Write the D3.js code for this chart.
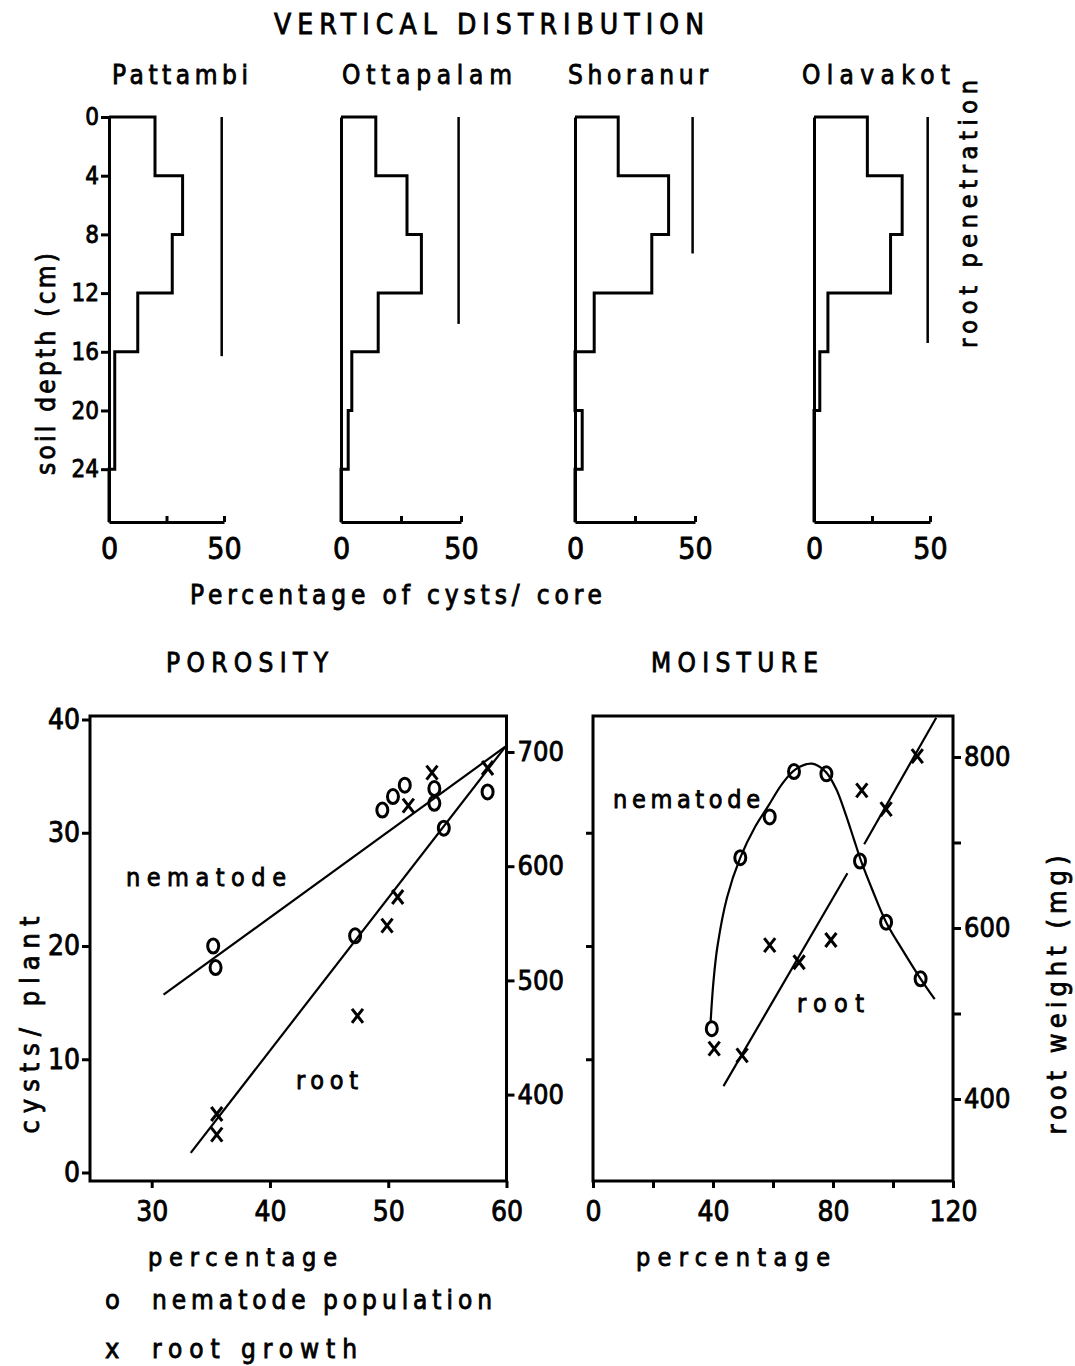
<!DOCTYPE html>
<html>
<head>
<meta charset="utf-8">
<script src="https://cdnjs.cloudflare.com/ajax/libs/d3/7.8.5/d3.min.js"></script>
<style>
  body { margin: 0; background: #fff; }
  svg text { font-family: "DejaVu Sans Condensed", "DejaVu Sans", sans-serif; fill: #000; stroke: #000; stroke-width: 0.8px; }
  .axis path, .axis line { stroke: #000; stroke-width: 3; fill: none; }
  .hist { fill: none; stroke: #000; stroke-width: 3; stroke-linejoin: miter; }
  .rootpen { stroke: #000; stroke-width: 2.5; }
  .frame { fill: none; stroke: #000; stroke-width: 3; }
  .fit { fill: none; stroke: #000; stroke-width: 2.2; }
  .mark { fill: none; stroke: #000; stroke-width: 3; }
</style>
</head>
<body>
<div id="chart"></div>
<script>
// ---- vertical distribution (percentage of cysts per 4 cm layer) ----
var sites = ["Pattambi", "Ottapalam", "Shoranur", "Olavakot"];
var depthEdges = [0, 4, 8, 12, 16, 20, 24, 28];
var pattambi  = [20, 32, 27.5, 12.5, 2.5, 2.5, 0];
var ottapalam = [14.5, 27.5, 33.5, 15.5, 4.5, 3, 0];
var shoranur  = [18, 39, 32, 8, 0, 3, 0];
var olavakot  = [23, 38, 33, 6, 2.5, 0, 0];
var rootPenetration = [16.3, 14.1, 9.3, 15.4];
var rootLineAt = 49;
var depthTicks = [0, 4, 8, 12, 16, 20, 24];
var pctTicks = [0, 25, 50];

// ---- porosity ----
var porosityTicks = [30, 40, 50, 60];
var cystTicks = [0, 10, 20, 30, 40];
var porosityRootTicks = [400, 500, 600, 700];
var porosityNemX = [35.2, 35.4, 49.5, 50.4, 51.4, 53.9, 53.9, 54.7, 47.2, 58.4];
var porosityNemY = [20.0, 18.1, 32.0, 33.2, 34.2, 33.9, 32.6, 30.4, 20.9, 33.6];
var porosityRootX = [35.5, 35.5, 47.4, 49.9, 50.8, 51.7, 53.7, 58.4];
var porosityRootY = [383, 365, 469, 548, 573, 653, 682, 686];
var porosityNemFit = [[31, 15.7], [59.9, 37.6]];
var porosityRootFit = [[33.3, 349], [59.9, 704.5]];

// ---- moisture ----
var moistureTicks = [0, 20, 40, 60, 80, 100, 120];
var moistureRootTicks = [400, 500, 600, 700, 800];
var moistNemX = [39.6, 49.1, 58.9, 67.0, 77.8, 89.0, 97.7, 109.2];
var moistNemY = [12.7, 27.8, 31.4, 35.4, 35.2, 27.5, 22.1, 17.1];
var moistRootX = [40.4, 49.7, 58.9, 68.7, 79.3, 89.6, 97.7, 108.1];
var moistRootY = [459, 451, 580, 560, 586, 761, 739, 801];
var moistNemCurve = [[39.2, 13.3], [40.2, 17], [41.5, 20], [44.7, 24.3], [49.1, 27.8], [54, 30.5],
  [58.5, 32.4], [63, 34.3], [67.5, 35.6], [73, 36.1], [77.5, 35.4], [81, 33.9], [84, 31.8],
  [87, 29.4], [89.5, 27.4], [93.2, 24.9], [97.7, 22.1], [103.5, 19.5], [109.2, 17.1], [113.9, 15.3]];
var moistRootFit = [[[43.5, 415], [84.8, 664]], [[90.4, 698], [114.4, 846]]];

function draw() {
    var svg = d3.select("#chart")
      .append("svg")
        .attr("width", 1075)
        .attr("height", 1366);

    function label(txt, x, y, size, len, anchor) {
        var t = svg.append("text")
            .attr("x", x)
            .attr("y", y)
            .style("font-size", size + "px")
            .style("text-anchor", anchor || "start")
            .text(txt);
        if (len) t.attr("textLength", len).attr("lengthAdjust", "spacing");
        return t;
    }
    function vlabel(txt, x, y, size, len) {
        svg.append("text")
            .attr("transform", "translate(" + x + "," + y + ") rotate(-90)")
            .style("font-size", size + "px")
            .style("text-anchor", "middle")
            .attr("textLength", len)
            .attr("lengthAdjust", "spacing")
            .text(txt);
    }

    // ================= top: vertical distribution =================
    var siteData = [pattambi, ottapalam, shoranur, olavakot];
    var panelX = [109, 341, 575, 814];
    var panelW = [115, 120, 120, 116];
    var titleX = [112, 342, 568, 802];
    var titleLen = [136, 170, 140, 148];
    var yDepth = d3.scaleLinear().domain([0, 27.6]).range([117, 522]);
    var maxDepth = yDepth.domain()[1];

    label("VERTICAL DISTRIBUTION", 274, 34, 28, 430);

    sites.forEach(function(name, i) {
        var x = d3.scaleLinear().domain([0, 50]).range([panelX[i], panelX[i] + panelW[i]]);

        label(name, titleX[i], 84, 26, titleLen[i]);

        var pts = [[0, 0]];
        siteData[i].forEach(function(v, j) {
            pts.push([v, Math.min(depthEdges[j], maxDepth)]);
            pts.push([v, Math.min(depthEdges[j + 1], maxDepth)]);
        });
        pts.push([0, maxDepth]);

        svg.append("path")
            .attr("class", "hist")
            .attr("d", d3.line()
                .x(function(d) { return x(d[0]); })
                .y(function(d) { return yDepth(d[1]); })(pts));

        svg.append("line")
            .attr("class", "rootpen")
            .attr("x1", x(rootLineAt)).attr("x2", x(rootLineAt))
            .attr("y1", yDepth(0)).attr("y2", yDepth(rootPenetration[i]));

        svg.append("g")
            .attr("class", "axis")
            .attr("transform", "translate(" + panelX[i] + ",0)")
            .call(d3.axisLeft(yDepth)
                .tickValues(i === 0 ? depthTicks : [])
                .tickSize(8).tickSizeOuter(0).tickPadding(2))
            .selectAll("text").style("font-size", "24px");

        svg.append("g")
            .attr("class", "axis")
            .attr("transform", "translate(0," + yDepth(maxDepth) + ")")
            .call(d3.axisBottom(x)
                .tickValues(pctTicks)
                .tickFormat(function(d) { return d === 25 ? "" : d; })
                .tickSize(-6).tickSizeOuter(0).tickPadding(16))
            .selectAll("text").style("font-size", "30px");
    });

    vlabel("soil depth (cm)", 55, 364, 26, 222);
    vlabel("root penetration", 977, 214, 25, 268);
    label("Percentage of cysts/ core", 190, 604, 26, 412);

    // ================= bottom panels =================
    var plotTop = 716, plotBottom = 1181;
    var yCyst = d3.scaleLinear().domain([0, 40]).range([1172.5, 719.5]);

    // ---- porosity ----
    var xPor = d3.scaleLinear().domain([30, 60]).range([151.7, 506.5]);
    var yRootP = d3.scaleLinear().domain([400, 700]).range([1094.6, 752]);
    var porLeft = 90, porRight = xPor(60);

    label("POROSITY", 166, 672, 26, 162);

    svg.append("rect")
        .attr("class", "frame")
        .attr("x", porLeft).attr("y", plotTop)
        .attr("width", porRight - porLeft).attr("height", plotBottom - plotTop);

    svg.append("g").attr("class", "axis")
        .attr("transform", "translate(" + porLeft + ",0)")
        .call(d3.axisLeft(yCyst).tickValues(cystTicks).tickSize(8).tickPadding(2))
        .call(function(g) { g.select(".domain").remove(); })
        .selectAll("text").style("font-size", "28px");

    svg.append("g").attr("class", "axis")
        .attr("transform", "translate(" + porRight + ",0)")
        .call(d3.axisRight(yRootP).tickValues(porosityRootTicks).tickSize(8).tickPadding(3))
        .call(function(g) { g.select(".domain").remove(); })
        .selectAll("text").style("font-size", "27px");

    svg.append("g").attr("class", "axis")
        .attr("transform", "translate(0," + plotBottom + ")")
        .call(d3.axisBottom(xPor).tickValues(porosityTicks).tickSize(7).tickPadding(13))
        .call(function(g) { g.select(".domain").remove(); })
        .selectAll("text").style("font-size", "28px");

    svg.append("path").attr("class", "fit")
        .attr("d", d3.line()
            .x(function(d) { return xPor(d[0]); })
            .y(function(d) { return yCyst(d[1]); })(porosityNemFit));
    svg.append("path").attr("class", "fit")
        .attr("d", d3.line()
            .x(function(d) { return xPor(d[0]); })
            .y(function(d) { return yRootP(d[1]); })(porosityRootFit));

    svg.selectAll("ellipse.por")
        .data(porosityNemX)
      .enter().append("ellipse")
        .attr("class", "mark por")
        .attr("cx", function(d) { return xPor(d); })
        .attr("cy", function(d, i) { return yCyst(porosityNemY[i]); })
        .attr("rx", 5.5).attr("ry", 7);

    svg.selectAll("path.porx")
        .data(porosityRootX)
      .enter().append("path")
        .attr("class", "mark porx")
        .attr("transform", function(d, i) {
            return "translate(" + xPor(d) + "," + yRootP(porosityRootY[i]) + ")";
        })
        .attr("d", "M-5.5,-7L5.5,7M5.5,-7L-5.5,7");

    label("nematode", 126, 886, 25, 160);
    label("root", 296, 1089, 25, 62);
    label("percentage", 148, 1266, 25, 189);
    vlabel("cysts/ plant", 39, 1025, 27, 217);

    // ---- moisture ----
    var xMoist = d3.scaleLinear().domain([0, 120]).range([593, 953]);
    var yRootM = d3.scaleLinear().domain([400, 800]).range([1099, 757]);

    label("MOISTURE", 651, 672, 26, 167);

    svg.append("rect")
        .attr("class", "frame")
        .attr("x", xMoist(0)).attr("y", plotTop)
        .attr("width", xMoist(120) - xMoist(0)).attr("height", plotBottom - plotTop);

    svg.append("g").attr("class", "axis")
        .attr("transform", "translate(" + xMoist(0) + ",0)")
        .call(d3.axisLeft(yCyst).tickValues([10, 20, 30]).tickSize(7).tickFormat(""))
        .call(function(g) { g.select(".domain").remove(); });

    svg.append("g").attr("class", "axis")
        .attr("transform", "translate(" + xMoist(120) + ",0)")
        .call(d3.axisRight(yRootM).tickValues(moistureRootTicks).tickSize(8).tickPadding(3)
            .tickFormat(function(d) { return d % 200 === 0 ? d : ""; }))
        .call(function(g) { g.select(".domain").remove(); })
        .selectAll("text").style("font-size", "27px");

    svg.append("g").attr("class", "axis")
        .attr("transform", "translate(0," + plotBottom + ")")
        .call(d3.axisBottom(xMoist).tickValues(moistureTicks).tickSize(7).tickPadding(13)
            .tickFormat(function(d) { return d % 40 === 0 ? d : ""; }))
        .call(function(g) { g.select(".domain").remove(); })
        .selectAll("text").style("font-size", "28px");

    svg.append("path").attr("class", "fit")
        .attr("d", d3.line()
            .curve(d3.curveCatmullRom.alpha(0.5))
            .x(function(d) { return xMoist(d[0]); })
            .y(function(d) { return yCyst(d[1]); })(moistNemCurve));

    moistRootFit.forEach(function(seg) {
        svg.append("path").attr("class", "fit")
            .attr("d", d3.line()
                .x(function(d) { return xMoist(d[0]); })
                .y(function(d) { return yRootM(d[1]); })(seg));
    });

    svg.selectAll("ellipse.moi")
        .data(moistNemX)
      .enter().append("ellipse")
        .attr("class", "mark moi")
        .attr("cx", function(d) { return xMoist(d); })
        .attr("cy", function(d, i) { return yCyst(moistNemY[i]); })
        .attr("rx", 5.5).attr("ry", 7);

    svg.selectAll("path.moix")
        .data(moistRootX)
      .enter().append("path")
        .attr("class", "mark moix")
        .attr("transform", function(d, i) {
            return "translate(" + xMoist(d) + "," + yRootM(moistRootY[i]) + ")";
        })
        .attr("d", "M-5.5,-7L5.5,7M5.5,-7L-5.5,7");

    label("nematode", 613, 808, 25, 147);
    label("root", 797, 1012, 25, 67);
    label("percentage", 636, 1266, 25, 194);
    vlabel("root weight (mg)", 1066, 995, 27, 279);

    // ---- legend ----
    label("o", 105, 1309, 27);
    label("nematode population", 152, 1309, 26, 340);
    label("x", 105, 1358, 27);
    label("root growth", 152, 1358, 26, 205);
}

draw();
</script>
</body>
</html>
